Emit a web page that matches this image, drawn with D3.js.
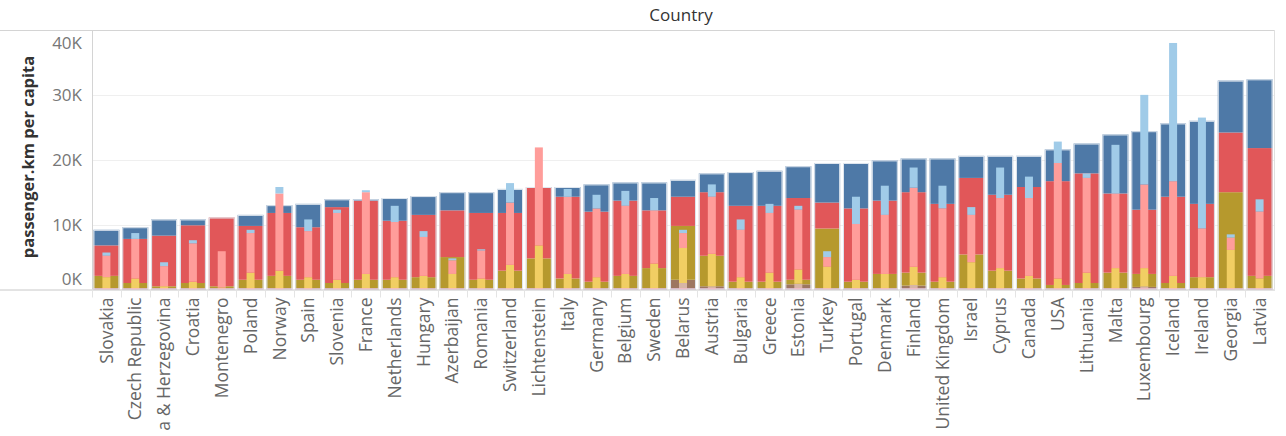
<!DOCTYPE html>
<html>
<head>
<meta charset="utf-8">
<script src="https://cdn.jsdelivr.net/npm/d3@7"></script>
<style>
  body { margin: 0; background: #fff; }
  svg text { font-family: "Open Sans", "DejaVu Sans", sans-serif; }
</style>
</head>
<body>
<div id="chart"></div>
<script>

// countries, in the order of the chart (third label is shown cut in the original header)
var countries = ["Slovakia","Czech Republic","a & Herzegovina","Croatia","Montenegro","Poland","Norway","Spain",
    "Slovenia","France","Netherlands","Hungary","Azerbaijan","Romania","Switzerland","Lichtenstein","Italy","Germany",
    "Belgium","Sweden","Belarus","Austria","Bulgaria","Greece","Estonia","Turkey","Portugal","Denmark","Finland",
    "United Kingdom","Israel","Cyprus","Canada","USA","Lithuania","Malta","Luxembourg","Iceland","Ireland","Georgia","Latvia"];

// wide bars (dark shades), passenger.km per capita by segment
var pinkWide  = [200,200,200,200,200,200,200,200,200,200,200,200,200,200,200,200,200,200,200,200,200,200,200,200,200,200,200,200,200,200,200,200,200,200,200,200,200,200,200,200,200];
var brownWide = [0,0,0,0,0,0,0,0,0,0,0,0,0,0,0,0,0,0,0,0,1300,300,0,0,600,0,0,0,400,0,0,0,0,0,0,0,200,0,0,0,0];
var oliveWide = [1900,800,300,800,300,1300,1900,1300,800,1300,1300,1700,4800,1300,2700,4600,1500,1000,1900,3100,8300,4700,1000,1000,700,9200,1000,2200,2000,1000,5200,2700,1500,500,800,2400,2000,800,1700,14800,1900];
var redWide   = [4700,6800,7800,8900,10600,8300,9700,8100,11700,12200,9100,9600,7200,10300,8900,11000,12600,10800,11600,8900,4500,9800,11700,11700,12600,4000,11300,11300,12400,12000,11800,11700,14100,16000,16900,12200,9900,13300,11300,9200,19700];
var blueWide  = [2400,1800,2500,900,0,1700,1200,3600,1200,200,3500,2900,2800,3200,3700,0,1500,4200,2800,4300,2600,2900,5200,5400,4900,6100,7000,6200,5200,7000,3400,6000,4800,4900,4600,9100,12100,11300,12800,8000,10600];

// narrow bars (light shades)
var pinkNarrow  = [200,200,200,200,200,200,200,200,200,200,200,200,200,200,200,200,200,200,200,200,200,200,200,200,200,200,200,200,200,200,200,200,200,200,200,200,200,200,200,200,200];
var brownNarrow = [0,0,0,0,0,0,0,0,0,0,0,0,0,0,0,0,0,0,0,0,800,300,0,0,700,0,0,0,500,0,0,0,0,0,0,0,300,0,0,0,0];
var yellowNarrow= [1700,1500,300,1000,100,2400,2700,1700,1300,2200,1700,1900,2200,1500,3600,6600,2200,1700,2200,3800,5400,5000,1700,2400,2200,3300,1300,2200,2800,1700,4000,3100,1900,1500,2400,3100,2800,1900,1700,5900,1500];
var redNarrow   = [3300,6100,3100,5900,5600,6100,11900,7100,10300,12600,8500,6000,2100,4300,9600,15100,11900,10600,10500,8200,2300,8800,7300,9200,9200,1500,8600,9100,12200,10600,7300,10800,12000,17800,14600,11500,12900,14600,7500,1900,10300];
var blueNarrow  = [500,900,600,500,0,500,1000,1800,500,300,2500,900,300,200,3000,0,1200,2100,2300,1900,500,1900,1600,1400,600,900,4200,4500,3100,3500,1200,4700,3300,3300,700,7500,13800,21300,17100,500,1900];

var yTicks = [0, 10000, 20000, 30000, 40000];

var keys = ["pink","brown","olive","red","blue"];
var wideColors   = {pink:"#d37295", brown:"#9d7660", olive:"#b6992d", red:"#e15759", blue:"#4e79a7"};
var narrowColors = {pink:"#fabfd2", brown:"#d7b5a6", olive:"#f1ce63", red:"#ff9d9a", blue:"#a0cbe8"};

var W = 1286, H = 436;
var margin = {top: 30, left: 92, right: 1274, bottom: 289.5};

var svg = d3.select("#chart")
    .append("svg")
    .attr("width", W)
    .attr("height", H);

// build tables for the stack layout
var wideRows = countries.map(function(c, i){
    return {country: c, pink: pinkWide[i], brown: brownWide[i], olive: oliveWide[i], red: redWide[i], blue: blueWide[i]};
});
var narrowRows = countries.map(function(c, i){
    return {country: c, pink: pinkNarrow[i], brown: brownNarrow[i], olive: yellowNarrow[i], red: redNarrow[i], blue: blueNarrow[i]};
});

var stack = d3.stack().keys(keys);
var wideSeries = stack(wideRows);
var narrowSeries = stack(narrowRows);

// scales
var xScale = d3.scaleBand()
    .domain(countries)
    .range([margin.left, margin.right])
    .paddingInner(0.1)
    .paddingOuter(0.05);

var yScale = d3.scaleLinear()
    .domain([0, 40000])
    .range([margin.bottom, margin.top]);

// gridlines
svg.append("g")
    .selectAll("line")
    .data(yTicks.filter(function(d){ return d > 0 && d < 40000 }))
    .enter()
    .append("line")
    .attr("x1", margin.left)
    .attr("x2", margin.right)
    .attr("y1", function(d){ return Math.round(yScale(d)) + 0.5 })
    .attr("y2", function(d){ return Math.round(yScale(d)) + 0.5 })
    .attr("stroke", "#efefef");

// wide bars
var narrowW = 8;

svg.append("g")
    .selectAll("g")
    .data(wideSeries)
    .enter()
    .append("g")
    .attr("fill", function(d){ return wideColors[d.key] })
    .selectAll("rect")
    .data(function(d){ return d })
    .enter()
    .append("rect")
    .attr("x", function(d){ return xScale(d.data.country) })
    .attr("width", xScale.bandwidth())
    .attr("y", function(d){ return yScale(d[1]) })
    .attr("height", function(d){ return yScale(d[0]) - yScale(d[1]) });

// outline round each wide bar
function total(d){ return d.pink + d.brown + d.olive + d.red + d.blue }

svg.append("g")
    .selectAll("rect")
    .data(wideRows)
    .enter()
    .append("rect")
    .attr("x", function(d){ return xScale(d.country) + 0.5 })
    .attr("width", xScale.bandwidth() - 1)
    .attr("y", function(d){ return yScale(total(d)) + 0.5 })
    .attr("height", function(d){ return margin.bottom - yScale(total(d)) - 1 })
    .attr("fill", "none")
    .attr("stroke", "#dfe6ee")
    .attr("stroke-width", 1);

// narrow bars
svg.append("g")
    .selectAll("g")
    .data(narrowSeries)
    .enter()
    .append("g")
    .attr("fill", function(d){ return narrowColors[d.key] })
    .selectAll("rect")
    .data(function(d){ return d })
    .enter()
    .append("rect")
    .attr("x", function(d){ return xScale(d.data.country) + xScale.bandwidth()/2 - narrowW/2 })
    .attr("width", narrowW)
    .attr("y", function(d){ return yScale(d[1]) })
    .attr("height", function(d){ return yScale(d[0]) - yScale(d[1]) });

// frame lines
svg.append("line")
    .attr("x1", 0).attr("x2", margin.right + 1)
    .attr("y1", margin.top + 0.5).attr("y2", margin.top + 0.5)
    .attr("stroke", "#d4d4d4");

svg.append("line")
    .attr("x1", 0).attr("x2", margin.right + 1)
    .attr("y1", margin.bottom + 0.5).attr("y2", margin.bottom + 0.5)
    .attr("stroke", "#c8c8c8");

svg.append("line")
    .attr("x1", margin.left + 0.5).attr("x2", margin.left + 0.5)
    .attr("y1", margin.top).attr("y2", margin.bottom)
    .attr("stroke", "#d4d4d4");

svg.append("line")
    .attr("x1", margin.right + 0.5).attr("x2", margin.right + 0.5)
    .attr("y1", margin.top).attr("y2", margin.bottom)
    .attr("stroke", "#e0e0e0");

// y tick labels, the end ones kept inside the pane
svg.append("g")
    .selectAll("text")
    .data(yTicks)
    .enter()
    .append("text")
    .attr("x", 82)
    .attr("y", function(d){ return Math.min(margin.bottom - 10, Math.max(margin.top + 13, yScale(d))) })
    .attr("dy", "0.35em")
    .attr("text-anchor", "end")
    .style("font-size", "17px")
    .style("fill", "#777")
    .text(function(d){ return (d / 1000) + "K" });

// y axis title
svg.append("text")
    .attr("transform", "translate(34," + 157 + ") rotate(-90)")
    .attr("text-anchor", "middle")
    .style("font-size", "16.5px")
    .style("font-weight", "bold")
    .style("fill", "#333")
    .text("passenger.km per capita");

// header title
svg.append("text")
    .attr("x", 681)
    .attr("y", 21)
    .attr("text-anchor", "middle")
    .style("font-size", "17px")
    .style("fill", "#333")
    .text("Country");

// column dividers under the axis
var step = xScale.step();
svg.append("g")
    .selectAll("line")
    .data(countries)
    .enter()
    .append("line")
    .attr("x1", function(d){ return Math.round(xScale(d) - step * 0.05) + 0.5 })
    .attr("x2", function(d){ return Math.round(xScale(d) - step * 0.05) + 0.5 })
    .attr("y1", margin.bottom + 1)
    .attr("y2", margin.bottom + 8)
    .attr("stroke", "#e4e4e4");

// x labels
svg.append("g")
    .selectAll("text")
    .data(countries)
    .enter()
    .append("text")
    .attr("transform", function(d){ return "translate(" + (xScale(d) + xScale.bandwidth()/2) + "," + (margin.bottom + 8) + ") rotate(-90)" })
    .attr("dy", "0.35em")
    .attr("text-anchor", "end")
    .style("font-size", "17.5px")
    .style("fill", "#666")
    .text(function(d){ return d });

</script>
</body>
</html>
